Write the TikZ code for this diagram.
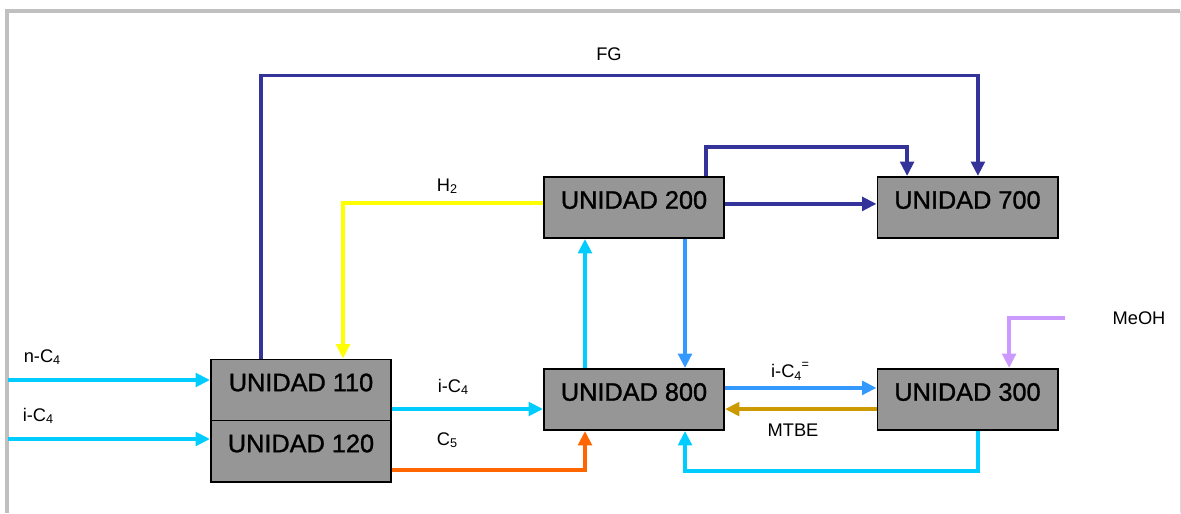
\documentclass[tikz,border=0pt]{standalone}
\usepackage{fontspec}
\setmainfont{Liberation Sans}
\newfontfamily\unitfont[FakeBold=1.2]{Liberation Sans}
\usepackage{tikz}
\usetikzlibrary{arrows.meta,positioning}
\usepackage{xcolor}

\definecolor{fgblue}{HTML}{333399}
\definecolor{hyellow}{HTML}{FFFF00}
\definecolor{icyan}{HTML}{00CCFF}
\definecolor{iblue}{HTML}{3399FF}
\definecolor{corange}{HTML}{FF6600}
\definecolor{mgold}{HTML}{CC9900}
\definecolor{mviolet}{HTML}{CC99FF}
\definecolor{unitgray}{HTML}{969696}
\definecolor{framegray}{HTML}{C0C0C0}

\newcommand{\lsub}[1]{\raisebox{-0.25ex}{\fontsize{9}{9}\selectfont #1}}
\newcommand{\lsup}[1]{\raisebox{1.0ex}{\fontsize{9}{9}\selectfont #1}}

\begin{document}
\begin{tikzpicture}[x=0.025cm, y=-0.025cm,
      unit/.style={draw=black, line width=1.4pt, fill=unitgray, inner sep=0pt,
        minimum width=4.5cm, minimum height=1.525cm, text depth=0.38cm,
        font=\unitfont\fontsize{18}{20}\selectfont},
      flow/.style={line width=2.5pt, -{Triangle[length=0.36cm, width=0.34cm]}},
      tag/.style={font=\fontsize{13}{15}\selectfont},
    ]
    \useasboundingbox (0,0) rectangle (1181,513);

    % Frame
    \draw[framegray, line width=2.2pt] (7,513) -- (7,11) -- (1180,11);
    \draw[framegray!60, line width=0.6pt] (1180,11) -- (1180,513);

    % Units
    \foreach \nm/\x/\y in {110/301/390, 120/301/451, 800/634/399.5,
                          200/634/207.5, 700/967.5/207.5, 300/967.5/399.5}
      \node[unit] (u\nm) at (\x,\y) {UNIDAD \nm};

    % Feeds
    \coordinate (nin) at (8,380);
    \coordinate (iin) at (8,439);
    \coordinate (mein) at (1065,318);

    % Fuel gas
    \draw[flow, fgblue] ([xshift=-1cm]u110.north) -- ++(0,-283)
      -| ([xshift=0.26cm]u700.north);
    \draw[flow, fgblue] ([xshift=1.8cm]u200.north) -- ++(0,-29)
      -| ([xshift=-1.51cm]u700.north);
    \draw[flow, fgblue] ([yshift=0.09cm]u200.east) -- ([yshift=0.09cm]u700.west);

    % Hydrogen
    \draw[flow, hyellow] ([yshift=0.11cm]u200.west) -| ([xshift=1.05cm]u110.north);

    % Butanes
    \draw[flow, icyan] (nin) -- (nin -| u110.west);
    \draw[flow, icyan] (iin) -- (iin -| u120.west);
    \draw[flow, icyan] ([yshift=-0.475cm]u110.east) -- ([yshift=-0.475cm]u110.east -| u800.west);
    \draw[flow, icyan] ([xshift=-1.225cm]u800.north) -- ([xshift=-1.225cm]u200.south);
    \draw[flow, iblue] ([xshift=1.275cm]u200.south) -- ([xshift=1.275cm]u800.north);
    \draw[flow, corange] ([yshift=-0.475cm]u120.east) -| ([xshift=-1.225cm]u800.south);

    % Etherification
    \draw[flow, iblue] ([yshift=0.29cm]u800.east) -- ([yshift=0.29cm]u800.east -| u300.west);
    \draw[flow, mgold] ([yshift=-0.24cm]u300.west) -- ([yshift=-0.24cm]u300.west -| u800.east);
    \draw[flow, icyan] ([xshift=0.26cm]u300.south) -- ++(0,40)
      -| ([xshift=1.275cm]u800.south);
    \draw[flow, mviolet] (mein) -| ([xshift=1.04cm]u300.north);

    % Stream labels
    \node[tag] (fg) at (609,54) {FG};
    \node[tag] (h2) at (447,186) {H\lsub{2}};
    \node[tag] (nc4) at (42,357) {n-C\lsub{4}};
    \node[tag] (ic4in) at (38,416) {i-C\lsub{4}};
    \node[tag] (ic4) at (453,387) {i-C\lsub{4}};
    \node[tag] (c5) at (447,440) {C\lsub{5}};
    \node[tag] (ic4e) at (790,371) {i-C\lsub{4}\lsup{=}};
    \node[tag] (mtbe) at (793,430) {MTBE};
    \node[tag] (meoh) at (1139,318) {MeOH};
  \end{tikzpicture}
\end{document}
